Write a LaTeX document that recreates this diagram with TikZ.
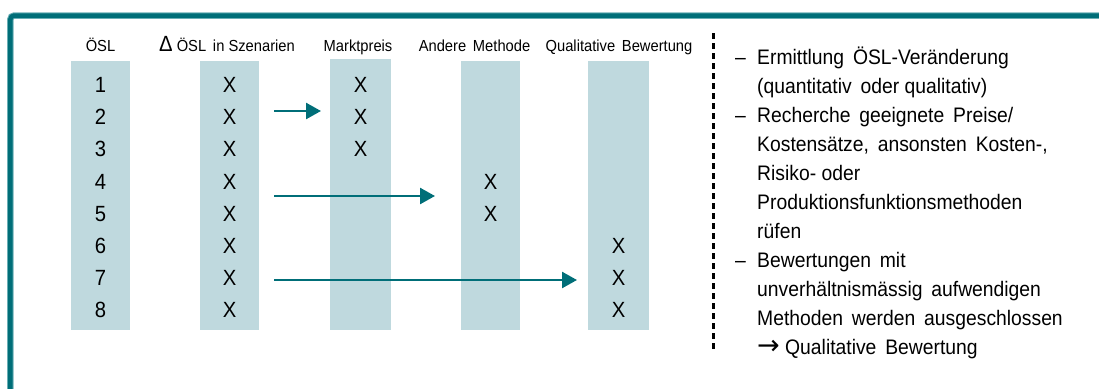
\documentclass[tikz,border=0pt]{standalone}
\usepackage{fontspec}
\setmainfont[FakeStretch=0.92]{Liberation Sans}
\newfontfamily\arrowfont{DejaVu Sans}
\usetikzlibrary{arrows.meta}
\definecolor{tealdark}{HTML}{006E78}
\definecolor{teallight}{HTML}{6AAFB5}
\definecolor{colfill}{HTML}{BFD9DE}
\begin{document}
\begin{tikzpicture}[x=1pt,y=-1pt,
  colbox/.style={fill=colfill, draw=none, anchor=north west, inner sep=0pt, minimum width=59pt, minimum height=269pt},
  hdr/.style={font=\fontsize{16}{16}\selectfont, anchor=base, inner sep=0pt},
  cell/.style={font=\fontsize{22}{22}\selectfont, inner sep=0pt},
  conn/.style={draw=tealdark, line width=2.5pt, -{Triangle[length=15pt,width=16pt]}},
  sepline/.style={draw=black, line width=2.2pt, dash pattern=on 5.5pt off 4.5pt},
]
\useasboundingbox (0,0) rectangle (1099,388);
\clip (0,0) rectangle (1099,388);
% frame
\coordinate (fb) at (10.3,400);
\coordinate (fr) at (1110,15.5);
\draw[teallight, line width=6.5pt, rounded corners=4pt] (fb) |- (fr);
\draw[tealdark, line width=4.5pt, rounded corners=4pt] (fb) |- (fr);
% columns
\node[colbox] (c0) at (71,61) {};
\node[colbox] (c1) at (200,61) {};
\node[colbox, minimum width=61pt, minimum height=271pt] (c2) at (330,59) {};
\node[colbox] (c3) at (461,61) {};
\node[colbox, minimum width=61pt] (c4) at (588,61) {};
% headers
\node[hdr] (h0) at (100.5,51) {ÖSL};
\node[hdr] (h1) at (227,51) {{\fontsize{22}{22}\selectfont Δ} ÖSL\, in Szenarien};
\node[hdr] (h2) at (358,51) {Marktpreis};
\node[hdr] (h3) at (474.5,51) {Andere\, Methode};
\node[hdr] (h4) at (619,51) {Qualitative\, Bewertung};
% cells
\foreach \k in {1,...,8} {
  \pgfmathsetmacro\yy{85+(\k-1)*32.2}
  \node[cell] (n\k) at (100.5,\yy) {\k};
  \node[cell] (d\k) at (229.5,\yy) {X};
}
\foreach \k in {1,2,3} {
  \pgfmathsetmacro\yy{85+(\k-1)*32.2}
  \node[cell] (m\k) at (360.5,\yy) {X};
}
\foreach \k in {4,5} {
  \pgfmathsetmacro\yy{85+(\k-1)*32.2}
  \node[cell] (a\k) at (490.5,\yy) {X};
}
\foreach \k in {6,7,8} {
  \pgfmathsetmacro\yy{85+(\k-1)*32.2}
  \node[cell] (q\k) at (618.5,\yy) {X};
}
% arrows
\coordinate (s1) at (274,111);
\coordinate (s2) at (274,196);
\coordinate (s3) at (274,280);
\draw[conn, shorten >=9pt] (s1) -- (s1 -| c2.west);
\draw[conn, shorten >=26pt] (s2) -- (s2 -| c3.west);
\draw[conn, shorten >=11pt] (s3) -- (s3 -| c4.west);
% separator
\coordinate (dtop) at (713.5,33);
\coordinate (dbot) at (713.5,352);
\draw[sepline] (dtop) -- (dbot);
% right text
\node[anchor=north west, inner sep=0pt, align=left, font=\fontsize{21}{29}\selectfont] (txt) at (735,46.5) {%
\makebox[22pt][l]{–}Ermittlung\, ÖSL-Veränderung\\
\hspace*{22pt}(quantitativ\, oder qualitativ)\\
\makebox[22pt][l]{–}Recherche\, geeignete\, Preise/\\
\hspace*{22pt}Kostensätze,\, ansonsten\, Kosten-,\\
\hspace*{22pt}Risiko- oder\\
\hspace*{22pt}Produktionsfunktionsmethoden\\
\hspace*{22pt}rüfen\\
\makebox[22pt][l]{–}Bewertungen\, mit\\
\hspace*{22pt}unverhältnismässig\, aufwendigen\\
\hspace*{22pt}Methoden\, werden\, ausgeschlossen\\
\hspace*{22pt}{\arrowfont\fontsize{27}{29}\selectfont →} Qualitative\, Bewertung};
\end{tikzpicture}
\end{document}
